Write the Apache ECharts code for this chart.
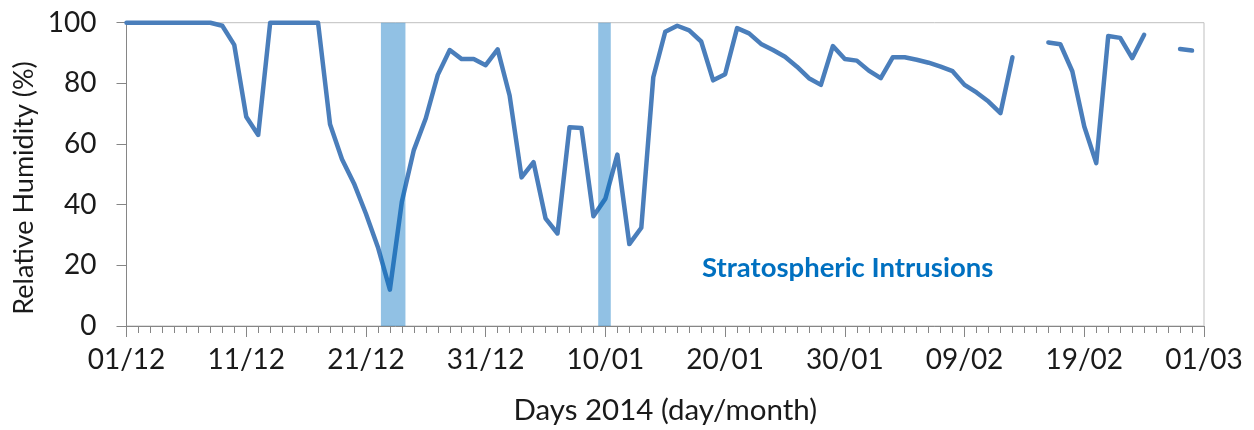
<!DOCTYPE html>
<html>
<head>
<meta charset="utf-8">
<script src="https://cdn.jsdelivr.net/npm/echarts@6/dist/echarts.min.js"></script>
<style>
  html, body { margin: 0; padding: 0; background: #fff; }
  #chart { width: 1254px; height: 430px; }
</style>
</head>
<body>
<div id="chart"></div>
<script>
// Daily relative humidity (%), one value per day starting 01/12; null = no data
const humidity = [
  100, 100, 100, 100, 100, 100, 100, 100, 99, 92.7,
  69, 63, 100, 100, 100, 100, 100, 66.5, 55, 47,
  37, 26, 12, 41, 58, 68.5, 82.8, 91, 88, 88,
  86, 91.2, 76, 49, 54, 35.5, 30.5, 65.5, 65.3, 36.2,
  42, 56.5, 27, 32.4, 82, 97, 99, 97.5, 93.8, 81,
  83, 98.2, 96.5, 93, 91, 88.8, 85.5, 81.7, 79.5, 92.3,
  88, 87.5, 84.2, 81.7, 88.6, 88.6, 87.8, 86.8, 85.5, 84,
  79.5, 77, 74, 70.2, 88.6, null, null, 93.5, 92.9, 84,
  65.8, 53.7, 95.6, 95, 88.3, 96, null, null, 91.3, 90.8
];

// Labels for every 10th day on the time axis
const tickLabels = ['01/12', '11/12', '21/12', '31/12', '10/01', '20/01', '30/01', '09/02', '19/02', '01/03'];

// Stratospheric intrusion periods, [start, end] in days since 01/12
const intrusions = [[21.25, 23.3], [39.4, 40.45]];

const chart = echarts.init(document.getElementById('chart'));
const font = 'Lato, "Open Sans", sans-serif';

chart.setOption({
  animation: false,
  backgroundColor: '#ffffff',
  grid: {
    left: 126.5, right: 50, top: 22.7, bottom: 103.3,
    show: true, borderColor: '#bfbfbf', borderWidth: 1
  },
  xAxis: {
    type: 'value',
    min: 0, max: 90, interval: 10,
    axisLine: { show: true, lineStyle: { color: '#868686', width: 1 } },
    axisTick: { show: true, length: 11, lineStyle: { color: '#868686' } },
    minorTick: { show: true, splitNumber: 10, length: 7, lineStyle: { color: '#868686' } },
    splitLine: { show: false },
    axisLabel: {
      margin: 20, fontSize: 28, fontFamily: font, color: '#1a1a1a',
      formatter: v => tickLabels[Math.round(v / 10)]
    },
    name: 'Days 2014 (day/month)',
    nameLocation: 'middle', nameGap: 69,
    nameTextStyle: { fontSize: 29.5, fontFamily: font, color: '#1a1a1a' }
  },
  yAxis: {
    type: 'value',
    min: 0, max: 100, interval: 20,
    axisLine: { show: true, lineStyle: { color: '#868686', width: 1 } },
    axisTick: { show: true, length: 10, lineStyle: { color: '#868686' } },
    splitLine: { show: false },
    axisLabel: { margin: 30, fontSize: 28, fontFamily: font, color: '#1a1a1a' }
  },
  graphic: [
    {
      type: 'text', x: 24, y: 188, rotation: Math.PI / 2,
      style: {
        text: 'Relative Humidity (%)', fontSize: 27, fontFamily: font,
        fill: '#1a1a1a', align: 'center', verticalAlign: 'middle'
      }
    },
    {
      type: 'text', x: 702, y: 268,
      style: {
        text: 'Stratospheric Intrusions', fontSize: 27.5, fontWeight: 'bold',
        fontFamily: font, fill: '#0070c0', align: 'left', verticalAlign: 'middle'
      }
    }
  ],
  series: [
    {
      type: 'line',
      data: humidity.map((v, i) => [i, v]),
      showSymbol: false,
      connectNulls: false,
      clip: false,
      z: 2,
      lineStyle: { color: '#4a7ebb', width: 4.5, join: 'round', cap: 'round' }
    },
    {
      // translucent bands laid over the humidity line
      type: 'custom',
      z: 5,
      data: intrusions,
      encode: { x: [0, 1] },
      renderItem: (params, api) => {
        const a = api.coord([api.value(0), 0]);
        const b = api.coord([api.value(1), 0]);
        const cs = params.coordSys;
        return {
          type: 'rect',
          shape: { x: a[0], y: cs.y, width: b[0] - a[0], height: cs.height },
          style: { fill: 'rgba(0,112,192,0.43)' }
        };
      }
    }
  ]
});
</script>
</body>
</html>
